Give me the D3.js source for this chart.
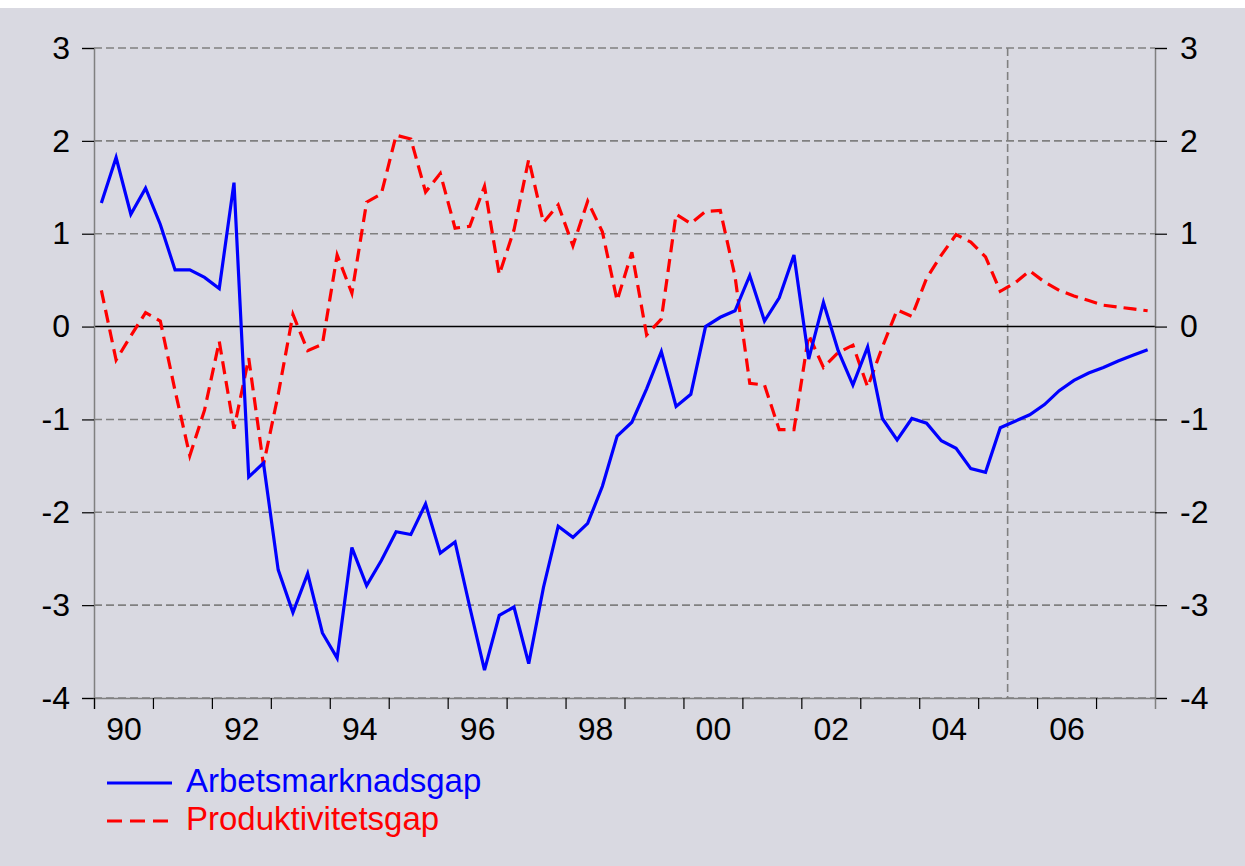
<!DOCTYPE html>
<html>
<head>
<meta charset="utf-8">
<script src="https://cdn.jsdelivr.net/npm/d3@7"></script>
<style>
  body { margin: 0; background: #ffffff; }
  #chart-area text { font-family: "Liberation Sans", Arial, sans-serif; }
</style>
</head>
<body>
<div id="chart-area"></div>
<script>
// quarterly series, 1990 Q1 - 2007 Q4
var startYear = 1990;
var endYear = 2008;

var arbetsmarknadsgap = [
  1.33, 1.82, 1.21, 1.49, 1.10, 0.61, 0.61, 0.53,
  0.41, 1.55, -1.62, -1.47, -2.62, -3.08, -2.66, -3.30,
  -3.57, -2.38, -2.79, -2.52, -2.21, -2.24, -1.91, -2.44,
  -2.32, -3.02, -3.70, -3.11, -3.02, -3.63, -2.81, -2.15,
  -2.27, -2.12, -1.72, -1.18, -1.03, -0.67, -0.27, -0.86,
  -0.73, 0.00, 0.10, 0.17, 0.55, 0.06, 0.31, 0.77,
  -0.35, 0.26, -0.26, -0.63, -0.22, -0.99, -1.22, -0.99,
  -1.04, -1.23, -1.31, -1.53, -1.57, -1.09, -1.02, -0.95,
  -0.84, -0.69, -0.58, -0.50, -0.44, -0.37, -0.31, -0.25
];

var produktivitetsgap = [
  0.39, -0.36, -0.10, 0.15, 0.06, -0.69, -1.39, -0.90,
  -0.16, -1.10, -0.34, -1.49, -0.73, 0.13, -0.26, -0.19,
  0.77, 0.36, 1.34, 1.43, 2.06, 2.02, 1.45, 1.65,
  1.06, 1.08, 1.51, 0.56, 1.04, 1.80, 1.12, 1.31,
  0.87, 1.35, 1.02, 0.28, 0.80, -0.09, 0.08, 1.21,
  1.11, 1.24, 1.25, 0.54, -0.61, -0.63, -1.11, -1.11,
  -0.09, -0.44, -0.28, -0.20, -0.65, -0.22, 0.18, 0.11,
  0.52, 0.77, 0.99, 0.91, 0.75, 0.38, 0.47, 0.60,
  0.48, 0.39, 0.33, 0.28, 0.23, 0.21, 0.19, 0.17
];

var yTicks = [-4, -3, -2, -1, 0, 1, 2, 3];
var xTickLabels = ["90", "92", "94", "96", "98", "00", "02", "04", "06"];
var forecastStart = 2005.5;

var seriesNames = ["Arbetsmarknadsgap", "Produktivitetsgap"];
var seriesColors = ["#0000ff", "#ff0000"];

GapVis = function (_parentElement) {
  this.parentElement = _parentElement;
  this.initVis();
};

GapVis.prototype.initVis = function () {
  var vis = this;

  vis.margin = { top: 48, right: 90, bottom: 168, left: 94 };
  vis.width = 1245 - vis.margin.left - vis.margin.right;
  vis.height = 866 - vis.margin.top - vis.margin.bottom;

  var root = d3.select("#" + vis.parentElement)
    .append("svg")
    .attr("width", 1245)
    .attr("height", 866);

  // background
  root.append("rect")
    .attr("x", 0).attr("y", 8)
    .attr("width", 1245).attr("height", 858)
    .attr("fill", "#d9d9e1");

  vis.svg = root.append("g")
    .attr("transform", "translate(" + vis.margin.left + "," + vis.margin.top + ")");

  // quarter midpoints as decimal years
  vis.data = arbetsmarknadsgap.map(function (d, i) {
    return {
      t: startYear + Math.floor(i / 4) + ((i % 4) + 0.5) / 4,
      a: d,
      p: produktivitetsgap[i]
    };
  });

  vis.x = d3.scaleLinear().domain([startYear, endYear]).range([0, vis.width]);
  vis.y = d3.scaleLinear().domain([-4, 3]).range([vis.height, 0]);

  vis.updateVis();
};

GapVis.prototype.updateVis = function () {
  var vis = this;

  // gridlines
  vis.svg.append("g")
    .selectAll("line")
    .data(yTicks.filter(function (d) { return d !== 0; }))
    .join("line")
    .attr("x1", 0).attr("x2", vis.width)
    .attr("y1", function (d) { return vis.y(d); })
    .attr("y2", function (d) { return vis.y(d); })
    .attr("stroke", "#808080")
    .attr("stroke-width", 1.6)
    .attr("stroke-dasharray", "8,4");

  // forecast marker
  vis.svg.append("line")
    .attr("x1", vis.x(forecastStart)).attr("x2", vis.x(forecastStart))
    .attr("y1", 0).attr("y2", vis.height)
    .attr("stroke", "#808080")
    .attr("stroke-width", 1.6)
    .attr("stroke-dasharray", "8,4");

  // zero line
  vis.svg.append("line")
    .attr("x1", 0).attr("x2", vis.width)
    .attr("y1", vis.y(0)).attr("y2", vis.y(0))
    .attr("stroke", "#000000")
    .attr("stroke-width", 1.5);

  // axes
  var yFormat = function (d) { return String(d); };
  var yLeft = d3.axisLeft(vis.y).tickValues(yTicks).tickSize(12).tickPadding(12).tickFormat(yFormat);
  var yRight = d3.axisRight(vis.y).tickValues(yTicks).tickSize(12).tickPadding(13).tickFormat(yFormat);
  var xTicks = d3.axisBottom(vis.x).tickValues(d3.range(startYear, endYear)).tickSize(11).tickFormat("");
  var xLabels = d3.axisBottom(vis.x)
    .tickValues(xTickLabels.map(function (d, i) { return startYear + 2 * i + 0.5; }))
    .tickSize(0).tickPadding(19)
    .tickFormat(function (d, i) { return xTickLabels[i]; });

  vis.svg.append("g").attr("class", "y-axis left").call(yLeft);
  vis.svg.append("g").attr("class", "y-axis right")
    .attr("transform", "translate(" + vis.width + ",0)").call(yRight);
  vis.svg.append("g").attr("class", "x-axis ticks")
    .attr("transform", "translate(0," + vis.height + ")").call(xTicks);
  vis.svg.append("g").attr("class", "x-axis labels")
    .attr("transform", "translate(0," + vis.height + ")").call(xLabels);

  vis.svg.selectAll(".y-axis .domain, .x-axis.ticks .domain")
    .attr("stroke", "#808080").attr("stroke-width", 1.5);
  vis.svg.selectAll(".x-axis.labels .domain").remove();
  vis.svg.selectAll(".y-axis .tick line, .x-axis .tick line")
    .attr("stroke", "#000000").attr("stroke-width", 1.2);
  vis.svg.selectAll(".y-axis text, .x-axis text")
    .attr("fill", "#000000")
    .style("font-size", "32px");

  // lines
  var lineA = d3.line()
    .x(function (d) { return vis.x(d.t); })
    .y(function (d) { return vis.y(d.a); });
  var lineP = d3.line()
    .x(function (d) { return vis.x(d.t); })
    .y(function (d) { return vis.y(d.p); });

  vis.svg.append("path")
    .datum(vis.data)
    .attr("fill", "none")
    .attr("stroke", seriesColors[1])
    .attr("stroke-width", 3.2)
    .attr("stroke-dasharray", "13,7")
    .attr("d", lineP);

  vis.svg.append("path")
    .datum(vis.data)
    .attr("fill", "none")
    .attr("stroke", seriesColors[0])
    .attr("stroke-width", 3.2)
    .attr("d", lineA);

  // legend
  var legend = vis.svg.append("g")
    .attr("transform", "translate(" + 13 + "," + (vis.height + 85) + ")");

  seriesNames.forEach(function (name, i) {
    var row = legend.append("g").attr("transform", "translate(0," + i * 38 + ")");
    row.append("line")
      .attr("x1", 0).attr("x2", 65)
      .attr("y1", 0).attr("y2", 0)
      .attr("stroke", seriesColors[i])
      .attr("stroke-width", 3.2)
      .attr("stroke-dasharray", i === 1 ? "15,8" : null);
    row.append("text")
      .attr("x", 79).attr("y", 9)
      .attr("fill", seriesColors[i])
      .style("font-size", "33px")
      .text(name);
  });
};

new GapVis("chart-area");
</script>
</body>
</html>
